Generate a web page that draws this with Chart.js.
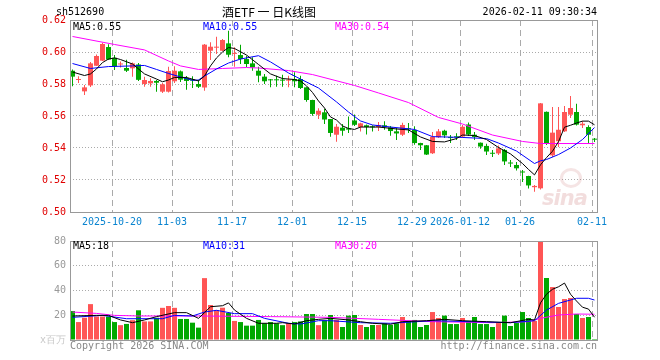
<!DOCTYPE html>
<html>
<head>
<meta charset="utf-8">
<script src="https://cdn.jsdelivr.net/npm/chart.js@4.4.1/dist/chart.umd.min.js"></script>
<style>
  body { margin: 0; background: #fff; width: 660px; height: 360px; overflow: hidden; position: relative; font-family: "DejaVu Sans Mono", monospace; }
  canvas { position: absolute; left: 0; }
  #price { top: 0; }
  #vol { top: 230px; }
  .t { position: absolute; font-size: 10px; line-height: 12px; white-space: nowrap; }
  .logo { position: absolute; left: 542px; top: 186px; font: italic bold 21px "DejaVu Sans", sans-serif; color: rgba(205, 120, 120, 0.25); letter-spacing: -1px; }
  .eye { position: absolute; left: 560px; top: 168px; width: 16px; height: 14px; border-radius: 50%; border: 3px solid rgba(205, 120, 120, 0.2); }
</style>
</head>
<body>
<canvas id="price" width="660" height="230"></canvas>
<canvas id="vol" width="660" height="130"></canvas>

<div class="t" style="left:56px;top:6px;color:#000">sh512690</div>
<div class="t" style="left:222px;top:5px;font-size:12px;line-height:14px;font-family:'Noto Sans CJK SC',sans-serif;color:#000">酒ETF 一 日K线图</div>
<div class="t" style="right:63px;top:6px;color:#000">2026-02-11 09:30:34</div>

<div class="t" style="left:73px;top:21px;color:#000">MA5:0.55</div>
<div class="t" style="left:203px;top:21px;color:#00f">MA10:0.55</div>
<div class="t" style="left:335px;top:21px;color:#f0f">MA30:0.54</div>

<div class="t" style="left:73px;top:240px;color:#000">MA5:18</div>
<div class="t" style="left:203px;top:240px;color:#00f">MA10:31</div>
<div class="t" style="left:335px;top:240px;color:#f0f">MA30:20</div>

<div class="t" style="left:70px;top:340px;color:#888">Copyright 2026 SINA.COM</div>
<div class="t" style="right:63px;top:340px;color:#888">http://finance.sina.com.cn</div>
<div class="eye"></div>
<div class="logo">sina</div>

<script>
// trading days 2025-10-09 .. 2026-02-11, one entry per day
const open = [0.5883,0.5825,0.5754,0.5791,0.5914,0.5946,0.6031,0.5964,0.5922,0.59,
  0.5898,0.5922,0.58,0.5804,0.5819,0.5752,0.5752,0.5817,0.5879,0.5838,
  0.5829,0.58,0.5778,0.6008,0.6027,0.6008,0.6054,0.5988,0.5981,0.5956,
  0.5929,0.5883,0.5846,0.5827,0.5827,0.5827,0.5821,0.5831,0.5831,0.5779,
  0.57,0.5608,0.5623,0.5581,0.5483,0.5527,0.5523,0.5572,0.5531,0.5542,
  0.5533,0.5531,0.5542,0.5528,0.5504,0.5483,0.5523,0.5513,0.5431,0.5417,
  0.5367,0.5467,0.5508,0.5467,0.5473,0.5472,0.5547,0.5483,0.5433,0.5413,
  0.5369,0.5366,0.5388,0.5309,0.5294,0.5253,0.5225,0.5155,0.5148,0.5626,
  0.5354,0.5442,0.5504,0.5608,0.5625,0.5542,0.5531,0.5454];
const close = [0.5846,0.5829,0.5779,0.5929,0.5975,0.605,0.5953,0.5908,0.5928,0.5883,
  0.5929,0.5826,0.5825,0.5819,0.5808,0.5798,0.5881,0.5883,0.5827,0.5819,
  0.5821,0.5783,0.6046,0.6033,0.6031,0.6075,0.5983,0.5994,0.5956,0.5925,
  0.5904,0.5852,0.5817,0.5823,0.5823,0.5821,0.5827,0.5817,0.5775,0.57,
  0.5613,0.5633,0.5578,0.5494,0.5533,0.5508,0.5515,0.5545,0.5554,0.5531,
  0.5529,0.5544,0.5531,0.5506,0.5491,0.5544,0.5517,0.5431,0.5417,0.5359,
  0.547,0.5504,0.5479,0.5462,0.5467,0.5533,0.5484,0.5469,0.5409,0.5378,
  0.5364,0.5398,0.5316,0.5303,0.5273,0.5247,0.5166,0.5163,0.5679,0.5428,
  0.5496,0.5514,0.5625,0.565,0.5546,0.5552,0.5483,0.5452];
const high = [0.589,0.5848,0.5794,0.5938,0.5984,0.6058,0.6048,0.5981,0.5941,0.5952,
  0.5934,0.5931,0.5846,0.5836,0.5825,0.5806,0.5908,0.5911,0.5884,0.585,
  0.5848,0.5827,0.605,0.6061,0.6096,0.6081,0.6133,0.6029,0.6046,0.5977,
  0.5967,0.5908,0.5863,0.5831,0.5852,0.5858,0.5852,0.5873,0.5852,0.578,
  0.5702,0.5648,0.5644,0.5582,0.555,0.555,0.5597,0.5609,0.5558,0.5547,
  0.5542,0.5563,0.5567,0.5538,0.5525,0.5558,0.5556,0.5536,0.5433,0.5419,
  0.55,0.5519,0.5514,0.5481,0.5492,0.5544,0.5559,0.55,0.5434,0.5427,
  0.5388,0.5416,0.5394,0.5325,0.5313,0.5263,0.5227,0.5169,0.5681,0.5628,
  0.5656,0.5656,0.5663,0.5725,0.5677,0.5567,0.5542,0.5463];
const low = [0.5786,0.5806,0.5731,0.5781,0.5913,0.5944,0.595,0.5888,0.5903,0.5875,
  0.5846,0.5819,0.5783,0.5783,0.5752,0.5744,0.5747,0.5806,0.5813,0.5764,
  0.5775,0.5775,0.5758,0.595,0.5988,0.6006,0.5967,0.5908,0.5925,0.5904,
  0.5883,0.5811,0.58,0.5779,0.5783,0.5783,0.5779,0.5779,0.5769,0.5689,
  0.5602,0.5581,0.555,0.5471,0.5439,0.5477,0.5494,0.5538,0.5503,0.5484,
  0.5503,0.5506,0.5514,0.5477,0.545,0.5475,0.5494,0.5421,0.5388,0.5356,
  0.5362,0.5463,0.5463,0.5431,0.545,0.5463,0.5475,0.545,0.5396,0.5356,
  0.5344,0.5356,0.5294,0.5281,0.5259,0.5188,0.5147,0.5127,0.5141,0.5419,
  0.5344,0.5406,0.55,0.5588,0.5541,0.5525,0.5427,0.5438];
// volume, millions
const volume = [23.4,14.5,18,29,19,19,19,14.5,12,13,
  16,24,15,15,18,26,27.5,26,17,17,
  14,10,50,28.3,24.2,26.1,21.8,15.4,14.5,11.6,
  11.6,16.2,13.5,14.5,13.5,12,13.5,14.5,15,21,
  21,12,16,20.2,16.2,10.5,19.7,20.2,12.1,10.5,
  12.1,12.1,13.5,12.1,13.5,18.6,15.4,16.2,10.5,12.1,
  22.6,17.8,19.7,12.9,12.9,17.8,15.4,18.6,12.9,12.9,
  10.5,13.7,19.7,11.3,13.7,22.6,17.8,15.4,84,50.1,
  42.8,26.7,33.1,33.9,21,17.8,18.6,0.8];

// moving averages: [day index, value]
const ma5 = [[0,0.5875],[2,0.5853],[3,0.5863],[4,0.5894],[5,0.5934],[6,0.5956],[7,0.5963],[8,0.5953],[10,0.5925],
  [12,0.5863],[14,0.5831],[15,0.5814],[16,0.5825],[17,0.5841],[19,0.5841],[21,0.5819],[22,0.585],[23,0.5913],
  [24,0.5963],[25,0.6],[26,0.6028],[27,0.6022],[29,0.5981],[31,0.5922],[33,0.5863],[35,0.5834],[37,0.5828],
  [38,0.5819],[39,0.5788],[40,0.5747],[41,0.5694],[42,0.565],[43,0.5594],[44,0.5575],[45,0.5538],[46,0.5522],
  [47,0.5516],[48,0.5531],[51,0.5531],[54,0.5519],[56,0.5513],[58,0.5469],[60,0.5441],[62,0.5438],[64,0.5459],
  [65,0.5481],[67,0.5478],[69,0.5453],[71,0.5403],[73,0.5363],[75,0.5303],[76,0.5266],[77,0.5232],[78,0.5295],
  [79,0.534],[80,0.538],[81,0.544],[82,0.553],[83,0.5542],[84,0.5556],[85,0.5568],[86,0.5568],[87,0.5545]];
const ma10 = [[0,0.5928],[3,0.5897],[6,0.5909],[10,0.5913],[12,0.5916],[14,0.5891],[16,0.5866],[18,0.5844],
  [20,0.5823],[21,0.5825],[22,0.585],[24,0.5894],[26,0.5931],[28,0.5956],[31,0.5977],[33,0.5938],[36,0.5869],
  [38,0.5831],[41,0.5775],[44,0.5688],[46,0.5625],[48,0.5569],[50,0.5544],[53,0.5531],[57,0.5516],[60,0.5471],
  [65,0.5466],[69,0.5459],[71,0.5431],[74,0.5381],[77,0.5303],[78,0.532],[79,0.5328],[81,0.5359],[83,0.54],
  [85,0.5453],[87,0.5528]];
const ma30 = [[0,0.6097],[7,0.6047],[12,0.6013],[16,0.5944],[18,0.5913],[21,0.5891],[25,0.5897],[29,0.5903],
  [31,0.59],[36,0.5884],[40,0.5859],[47,0.5791],[51,0.5744],[56,0.5684],[61,0.5591],[65,0.555],[70,0.5481],
  [75,0.5441],[78,0.5428],[87,0.5428]];
const volMa5 = [[0,19.4],[4,19.9],[6,19.9],[8,16.2],[10,14],[12,16.2],[14,18.9],[17,22.1],[19,22.1],[21,17.5],
  [22,22.1],[23,26.9],[25,27.7],[26,30],[27,24.2],[29,17.5],[31,13.5],[34,13.5],[35,14],[37,12.9],[39,15.6],
  [41,16.7],[43,17.5],[46,16.2],[48,14.8],[50,13.5],[53,12.7],[55,14.8],[59,15.6],[62,16.7],[65,15.6],
  [69,14.8],[73,14],[76,16.7],[77,16.2],[78,30],[79,37],[80,41],[81,43],[82,46],[83,37],[84,31.5],
  [85,26.5],[86,25],[87,18.4]];
const volMa10 = [[0,18.3],[5,19.9],[9,17.2],[15,17.2],[17,19.9],[20,19.4],[22,22.6],[24,24],[27,21.3],[30,21.3],
  [32,17.5],[36,13.5],[38,12.9],[41,15.6],[43,15.6],[48,14],[53,13.5],[60,15.6],[73,14],[77,15.6],[79,24.2],
  [81,29.6],[84,33.7],[86,33.7],[87,32.3]];
const volMa30 = [[0,22.6],[4,21.5],[7,19.9],[11,19.4],[21,19.4],[33,18.9],[43,18.3],[51,16.7],[60,14.8],
  [70,14],[76,14.8],[78,17.5],[81,20.2],[84,21],[87,20.8]];

// date labels and the day they mark
const dateIdx = [7, 17, 27, 37, 47, 57, 65, 75, 87];
const dateLbl = ['2025-10-20', '11-03', '11-17', '12-01', '12-15', '12-29', '2026-01-12', '01-26', '02-11'];
const priceTicks = [0.50, 0.52, 0.54, 0.56, 0.58, 0.60, 0.62];
const volTicks = [0, 20, 40, 60, 80];

const N = open.length;
const SHIFT = 2.5 / 6;   // date lines sit on the left edge of a candle slot
const RED = '#ff5555';
const GREEN = '#00a800';
const MONO = { family: 'DejaVu Sans Mono', size: 10 };

const colors = close.map((c, i) => c >= open[i] ? RED : GREEN);
const pts = list => list.map(p => ({ x: p[0], y: p[1] }));

const frame = {
  id: 'frame',
  afterDatasetsDraw(chart) {
    const a = chart.chartArea, c = chart.ctx;
    c.save();
    c.strokeStyle = '#999';
    c.lineWidth = 1;
    c.strokeRect(a.left + 0.5, a.top + 0.5, a.right - a.left - 1, a.bottom - a.top);
    c.restore();
  }
};

function xScale(showLabels) {
  return {
    type: 'linear', min: -SHIFT, max: N - SHIFT, offset: false, bounds: 'data',
    afterBuildTicks: s => { s.ticks = dateIdx.map(i => ({ value: i - SHIFT })); },
    afterFit: s => { s.height = showLabels ? 18 : 0; },
    grid: { color: '#aaa', drawTicks: false, offset: false },
    border: { display: false, dash: [6, 4] },
    ticks: showLabels
      ? { autoSkip: false, maxRotation: 0, padding: 4, color: '#0a84d0', font: MONO,
          callback: (v, i) => dateLbl[i] }
      : { display: false }
  };
}

function maLine(list, color) {
  return { type: 'line', data: pts(list), borderColor: color, borderWidth: 1,
    pointRadius: 0, fill: false, tension: 0, order: 0 };
}

new Chart(document.getElementById('price'), {
  type: 'bar',
  data: {
    datasets: [
      maLine(ma5, '#000'),
      maLine(ma10, '#00f'),
      maLine(ma30, '#f0f'),
      { type: 'bar', data: close.map((c, i) => ({ x: i, y: [open[i], c] })),
        backgroundColor: colors, barThickness: 5, minBarLength: 1, grouped: false,
        inflateAmount: 0, borderWidth: 0, order: 1 },
      { type: 'bar', data: high.map((h, i) => ({ x: i, y: [low[i], h] })),
        backgroundColor: colors, barThickness: 1, grouped: false,
        inflateAmount: 0, borderWidth: 0, order: 2 }
    ]
  },
  options: {
    responsive: false, animation: false,
    layout: { padding: { top: 20, right: 62, bottom: 0, left: 0 } },
    plugins: { legend: { display: false }, tooltip: { enabled: false } },
    scales: {
      x: xScale(true),
      y: {
        min: 0.5, max: 0.62,
        afterBuildTicks: s => { s.ticks = priceTicks.map(v => ({ value: v })); },
        afterFit: s => { s.width = 70; },
        grid: { drawTicks: false,
          color: ctx => (ctx.tick && (ctx.tick.value < 0.501 || ctx.tick.value > 0.619)) ? 'rgba(0,0,0,0)' : '#aaa' },
        border: { display: false, dash: [1, 2] },
        ticks: { padding: 4, color: '#e00000', font: MONO, callback: v => v.toFixed(2) }
      }
    }
  },
  plugins: [frame]
});

new Chart(document.getElementById('vol'), {
  type: 'bar',
  data: {
    datasets: [
      maLine(volMa5, '#000'),
      maLine(volMa10, '#00f'),
      maLine(volMa30, '#f0f'),
      { type: 'bar', data: volume.map((v, i) => ({ x: i, y: v })),
        backgroundColor: colors, barThickness: 5, grouped: false,
        inflateAmount: 0, borderWidth: 0, order: 1 }
    ]
  },
  options: {
    responsive: false, animation: false,
    layout: { padding: { top: 11, right: 62, bottom: 20, left: 0 } },
    plugins: { legend: { display: false }, tooltip: { enabled: false } },
    scales: {
      x: xScale(false),
      y: {
        min: 0, max: 80,
        afterBuildTicks: s => { s.ticks = volTicks.map(v => ({ value: v })); },
        afterFit: s => { s.width = 70; },
        grid: { drawTicks: false,
          color: ctx => (ctx.tick && (ctx.tick.value === 0 || ctx.tick.value === 80)) ? 'rgba(0,0,0,0)' : '#aaa' },
        border: { display: false, dash: [1, 2] },
        ticks: { padding: 4, font: MONO,
          color: ctx => (ctx.tick && ctx.tick.value === 0) ? '#c8c8c8' : '#999',
          callback: v => v === 0 ? 'x百万' : String(v) }
      }
    }
  },
  plugins: [frame]
});
</script>
</body>
</html>
